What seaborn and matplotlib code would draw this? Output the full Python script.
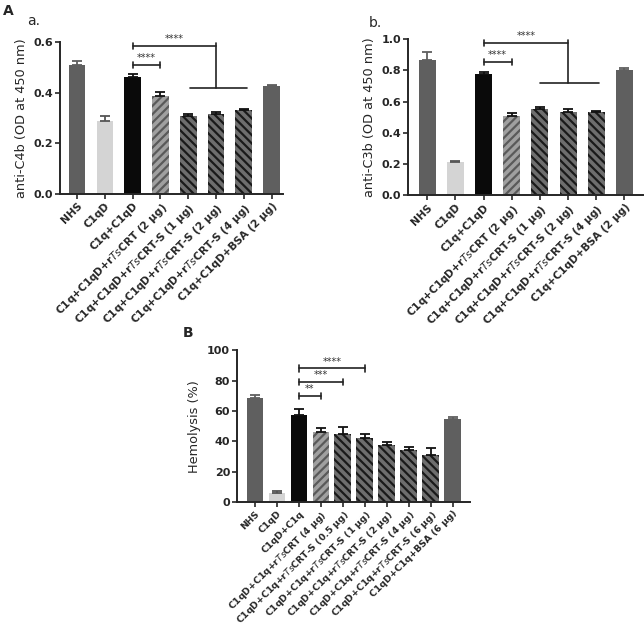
import numpy as np
import matplotlib.pyplot as plt
import seaborn as sns

# ---- data ----
a_labels = ['NHS', 'C1qD', 'C1q+C1qD',
            r'C1q+C1qD+r$\it{Ts}$CRT (2 μg)',
            r'C1q+C1qD+r$\it{Ts}$CRT-S (1 μg)',
            r'C1q+C1qD+r$\it{Ts}$CRT-S (2 μg)',
            r'C1q+C1qD+r$\it{Ts}$CRT-S (4 μg)',
            'C1q+C1qD+BSA (2 μg)']
a_vals = [0.51, 0.29, 0.462, 0.388, 0.31, 0.315, 0.332, 0.425]
a_err = [0.015, 0.02, 0.013, 0.015, 0.008, 0.01, 0.005, 0.005]

b_labels = a_labels
b_vals = [0.865, 0.215, 0.775, 0.51, 0.55, 0.535, 0.53, 0.805]
b_err = [0.055, 0.005, 0.012, 0.015, 0.018, 0.015, 0.012, 0.012]

B_labels = ['NHS', 'C1qD', 'C1qD+C1q',
            r'C1qD+C1q+r$\it{Ts}$CRT (4 μg)',
            r'C1qD+C1q+r$\it{Ts}$CRT-S (0.5 μg)',
            r'C1qD+C1q+r$\it{Ts}$CRT-S (1 μg)',
            r'C1qD+C1q+r$\it{Ts}$CRT-S (2 μg)',
            r'C1qD+C1q+r$\it{Ts}$CRT-S (4 μg)',
            r'C1qD+C1q+r$\it{Ts}$CRT-S (6 μg)',
            'C1qD+C1q+BSA (6 μg)']
B_vals = [68.5, 6, 57.5, 46.5, 45, 42.5, 37.5, 34.5, 31, 54.5]
B_err = [2, 1.5, 4, 2, 4.5, 2.5, 2, 1.5, 4.5, 1.5]

# bar kinds: n = plain dark, d = light (C1qD), k = black, c = CRT hatched, s = CRT-S hatched
a_kinds = ['n', 'd', 'k', 'c', 's', 's', 's', 'n']
B_kinds = ['n', 'd', 'k', 'c', 's', 's', 's', 's', 's', 'n']

FILL = {'n': '#5f5f5f', 'd': '#d4d4d4', 'k': '#0a0a0a', 'c': '#a0a0a0', 's': '#6e6e6e'}
HATCH = {'c': ('////', '#5a5a5a'), 's': ('\\\\\\\\', '#1a1a1a')}

sns.set_style('ticks')
plt.rcParams['hatch.linewidth'] = 1.6
fig = plt.figure(figsize=(6.44, 6.3), dpi=100)


def bars(ax, labels, vals, errs, kinds, width, xlim, ylim, yticks, ylabel, fs=7.6):
    n = len(vals)
    sns.barplot(x=list(range(n)), y=vals, hue=list(range(n)),
                palette=[FILL[k] for k in kinds], legend=False,
                width=width, ax=ax, saturation=1, linewidth=0)
    for p, k in zip(ax.patches, kinds):
        if k in HATCH:
            p.set_hatch(HATCH[k][0])
            p.set_edgecolor(HATCH[k][1])
            p.set_linewidth(0)
    ecol = ['#111111' if k in 'kcs' else FILL[k] for k in kinds]
    for i in range(n):
        ax.errorbar(i, vals[i], yerr=[[0], [errs[i]]], fmt='none',
                    ecolor=ecol[i] if kinds[i] != 'd' else '#555555',
                    elinewidth=1.3, capsize=3.5, capthick=1.3, zorder=1)
    ax.set_xlim(*xlim)
    ax.set_ylim(*ylim)
    ax.set_yticks(yticks)
    ax.set_xticks(range(n))
    ax.set_xticklabels(labels, rotation=45, ha='right', rotation_mode='anchor',
                       fontsize=fs, fontweight='bold')
    for t in ax.get_yticklabels():
        t.set_fontweight('bold')
        t.set_fontsize(8)
    ax.set_ylabel(ylabel, fontsize=9.3)
    sns.despine(ax=ax)
    for s in ['left', 'bottom']:
        ax.spines[s].set_linewidth(1.4)
    ax.tick_params(width=1.2, length=3.5, pad=1.5)


def bracket(ax, x0, x1, y, h, text):
    ax.plot([x0, x1], [y, y], color='#222222', lw=1.2, clip_on=False)
    ax.plot([x0, x0], [y - h, y + h], color='#222222', lw=1.2, clip_on=False)
    ax.plot([x1, x1], [y - h, y + h], color='#222222', lw=1.2, clip_on=False)
    ax.text((x0 + x1) / 2, y + h * 0.6, text, ha='center', va='bottom',
            fontsize=7, color='#333333')


def group_bracket(ax, x0, xm, y_top, y_low, gx0, gx1, h, text):
    ax.plot([x0, xm], [y_top, y_top], color='#222222', lw=1.2, clip_on=False)
    ax.plot([x0, x0], [y_top - h, y_top + h], color='#222222', lw=1.2, clip_on=False)
    ax.plot([xm, xm], [y_low, y_top + h], color='#222222', lw=1.2, clip_on=False)
    ax.plot([gx0, gx1], [y_low, y_low], color='#222222', lw=1.2, clip_on=False)
    ax.text((x0 + xm) / 2, y_top + h * 0.6, text, ha='center', va='bottom',
            fontsize=7, color='#333333')


# --- panel a ---
ax1 = fig.add_axes([0.093, 0.692, 0.346, 0.241])
bars(ax1, a_labels, a_vals, a_err, a_kinds, 0.6, (-0.62, 7.4), (0, 0.6),
     [0.0, 0.2, 0.4, 0.6], 'anti-C4b (OD at 450 nm)')
bracket(ax1, 2, 3, 0.51, 0.012, '****')
group_bracket(ax1, 2, 5, 0.585, 0.418, 4.05, 6.1, 0.012, '****')

# --- panel b ---
ax2 = fig.add_axes([0.634, 0.690, 0.365, 0.248])
bars(ax2, b_labels, b_vals, b_err, a_kinds, 0.6, (-0.67, 7.67), (0, 1.0),
     [0.0, 0.2, 0.4, 0.6, 0.8, 1.0], 'anti-C3b (OD at 450 nm)')
bracket(ax2, 2, 3, 0.855, 0.02, '****')
group_bracket(ax2, 2, 5, 0.976, 0.72, 4.0, 6.1, 0.02, '****')

# --- panel B ---
ax3 = fig.add_axes([0.368, 0.203, 0.362, 0.241])
bars(ax3, B_labels, B_vals, B_err, B_kinds, 0.76, (-0.82, 9.8), (0, 100),
     [0, 20, 40, 60, 80, 100], 'Hemolysis (%)', fs=6.7)
bracket(ax3, 2, 3, 69.7, 2, '**')
bracket(ax3, 2, 4, 79, 2, '***')
bracket(ax3, 2, 5, 88, 2, '****')

fig.text(0.004, 0.993, 'A', fontsize=10, fontweight='bold', va='top')
fig.text(0.042, 0.978, 'a.', fontsize=10, va='top')
fig.text(0.572, 0.975, 'b.', fontsize=10, va='top')
fig.text(0.283, 0.482, 'B', fontsize=10, fontweight='bold', va='top')

fig.savefig('out.png', dpi=100)
